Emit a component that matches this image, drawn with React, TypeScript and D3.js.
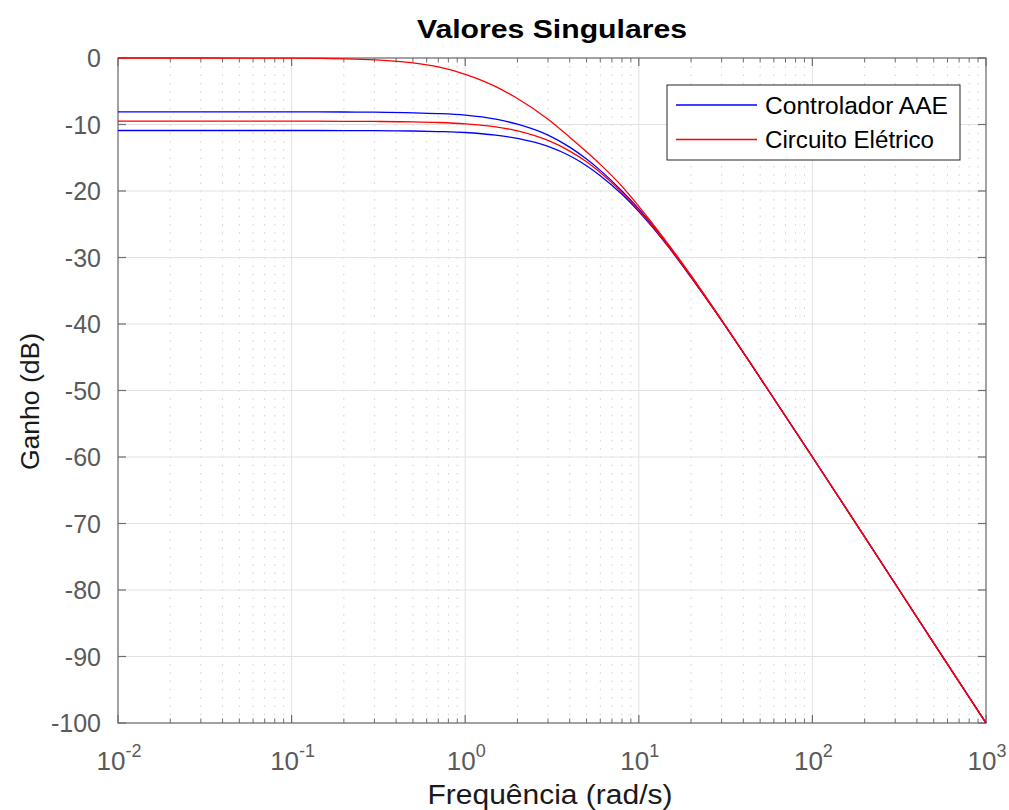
import React from "react";
import * as d3 from "d3";

// ---- data ----
const freq = [0.01, 0.02, 0.05, 0.1, 0.2, 0.3, 0.5, 0.7, 1, 1.5, 2, 3, 4, 5, 6, 8, 10, 15, 20, 30, 50, 100, 200, 500, 1000];

const controladorSV1 = [-8.1, -8.1, -8.1, -8.11, -8.12, -8.15, -8.24, -8.36, -8.6, -9.2, -9.95, -11.6, -13.4, -15.2, -16.9, -20.0, -22.7, -28.4, -32.9, -39.4, -48.1, -60.0, -72.0, -88.0, -100.0];
const controladorSV2 = [-10.9, -10.9, -10.9, -10.9, -10.91, -10.93, -10.98, -11.06, -11.2, -11.6, -12.1, -13.3, -14.7, -16.2, -17.7, -20.5, -23.1, -28.6, -33.0, -39.5, -48.1, -60.0, -72.0, -88.0, -100.0];
const circuitoSV1 = [0, 0, -0.01, -0.03, -0.12, -0.27, -0.72, -1.35, -2.45, -4.3, -6.1, -9.2, -11.9, -14.1, -16.0, -19.3, -22.3, -28.2, -32.7, -39.4, -48.1, -60.0, -72.0, -88.0, -100.0];
const circuitoSV2 = [-9.5, -9.5, -9.5, -9.5, -9.52, -9.54, -9.6, -9.7, -9.9, -10.35, -10.96, -12.4, -14.0, -15.6, -17.2, -20.2, -22.9, -28.5, -32.9, -39.5, -48.1, -60.0, -72.0, -88.0, -100.0];

const xDecades = [-2, -1, 0, 1, 2, 3];
const yTicks = [0, -10, -20, -30, -40, -50, -60, -70, -80, -90, -100];
const legendLabels = ["Controlador AAE", "Circuito Elétrico"];
const title = "Valores Singulares";
const xLabel = "Frequência (rad/s)";
const yLabel = "Ganho (dB)";

const W = 1009;
const H = 810;
const L = 118, R = 986, T = 58, B = 723;
const FONT = "'Liberation Sans', Arial, Helvetica, sans-serif";
const BLUE = "#0000ff";
const RED = "#ff0000";
const AX = "#6e6e6e";
const TXT = "#5a5a5a";

export default function App() {
  const x = d3.scaleLog().domain([0.01, 1000]).range([L, R]);
  const y = d3.scaleLinear().domain([-100, 0]).range([B, T]);

  const line = d3
    .line<[number, number]>()
    .x((d) => x(d[0]))
    .y((d) => y(d[1]))
    .curve(d3.curveMonotoneX);

  const series = [
    { v: controladorSV1, c: BLUE },
    { v: controladorSV2, c: BLUE },
    { v: circuitoSV2, c: RED },
    { v: circuitoSV1, c: RED },
  ];

  const minor: number[] = [];
  for (let e = -2; e < 3; e++) {
    for (let k = 2; k <= 9; k++) minor.push(k * Math.pow(10, e));
  }

  return (
    <svg
      width={W}
      height={H}
      style={{ position: "absolute", left: 0, top: 0, display: "block", background: "#fff" }}
      fontFamily={FONT}
    >
      <rect x={0} y={0} width={W} height={H} fill="#ffffff" />
      {/* minor grid */}
      {minor.map((m, i) => (
        <line key={"mg" + i} x1={x(m)} x2={x(m)} y1={T} y2={B} stroke="#cfcfcf" strokeWidth={1} strokeDasharray="1.5,6.8" />
      ))}
      {/* major grid */}
      {xDecades.map((e) => (
        <line key={"xg" + e} x1={x(Math.pow(10, e))} x2={x(Math.pow(10, e))} y1={T} y2={B} stroke="#e2e2e2" strokeWidth={1} />
      ))}
      {yTicks.map((t) => (
        <line key={"yg" + t} x1={L} x2={R} y1={y(t)} y2={y(t)} stroke="#e2e2e2" strokeWidth={1} />
      ))}

      {/* axes box */}
      <rect x={L} y={T} width={R - L} height={B - T} fill="none" stroke={AX} strokeWidth={1.2} />

      {/* ticks */}
      {xDecades.map((e) => {
        const xx = x(Math.pow(10, e));
        return (
          <g key={"xt" + e}>
            <line x1={xx} x2={xx} y1={B} y2={B - 8} stroke={AX} strokeWidth={1.2} />
            <line x1={xx} x2={xx} y1={T} y2={T + 8} stroke={AX} strokeWidth={1.2} />
          </g>
        );
      })}
      {minor.map((m, i) => (
        <g key={"mt" + i}>
          <line x1={x(m)} x2={x(m)} y1={B} y2={B - 4.5} stroke={AX} strokeWidth={1} />
          <line x1={x(m)} x2={x(m)} y1={T} y2={T + 4.5} stroke={AX} strokeWidth={1} />
        </g>
      ))}
      {yTicks.map((t) => (
        <g key={"yt" + t}>
          <line x1={L} x2={L + 8} y1={y(t)} y2={y(t)} stroke={AX} strokeWidth={1.2} />
          <line x1={R} x2={R - 8} y1={y(t)} y2={y(t)} stroke={AX} strokeWidth={1.2} />
        </g>
      ))}

      {/* curves (drawn over the axes, red last) */}
      {series.map((s, i) => (
        <path
          key={"s" + i}
          d={line(freq.map((f, j) => [f, s.v[j]] as [number, number])) || ""}
          fill="none"
          stroke={s.c}
          strokeWidth={1.3}
        />
      ))}

      {/* tick labels */}
      {yTicks.map((t) => (
        <text key={"yl" + t} x={101} y={y(t) + 9} textAnchor="end" fontSize={25} fill={TXT}>
          {String(t)}
        </text>
      ))}
      {xDecades.map((e) => (
        <text key={"xl" + e} x={x(Math.pow(10, e)) + 1} y={770} textAnchor="middle" fontSize={26} fill={TXT}>
          <tspan>10</tspan>
          <tspan dy={-13} fontSize={18}>{String(e)}</tspan>
        </text>
      ))}

      {/* title and labels */}
      <text
        x={(L + R) / 2}
        y={38}
        textAnchor="middle"
        fontSize={25}
        fontWeight="bold"
        fill="#000"
        textLength={270}
        lengthAdjust="spacingAndGlyphs"
      >
        {title}
      </text>
      <text
        x={(L + R) / 2 - 2}
        y={804}
        textAnchor="middle"
        fontSize={27}
        fill="#1a1a1a"
        textLength={245}
        lengthAdjust="spacingAndGlyphs"
      >
        {xLabel}
      </text>
      <text
        transform={`translate(39, ${(T + B) / 2 + 11}) rotate(-90)`}
        textAnchor="middle"
        fontSize={26}
        fill="#1a1a1a"
        textLength={137}
        lengthAdjust="spacingAndGlyphs"
      >
        {yLabel}
      </text>

      {/* legend */}
      <rect x={667} y={85} width={293} height={75} fill="#ffffff" stroke="#262626" strokeWidth={1} />
      {legendLabels.map((lab, i) => (
        <g key={"lg" + i}>
          <line x1={676} x2={757} y1={105 + i * 34.5} y2={105 + i * 34.5} stroke={i === 0 ? BLUE : RED} strokeWidth={1.3} />
          <text
            x={765}
            y={105 + i * 34.5 + 8.5}
            fontSize={23}
            fill="#000"
            textLength={i === 0 ? 183 : 169}
            lengthAdjust="spacingAndGlyphs"
          >
            {lab}
          </text>
        </g>
      ))}
    </svg>
  );
}
